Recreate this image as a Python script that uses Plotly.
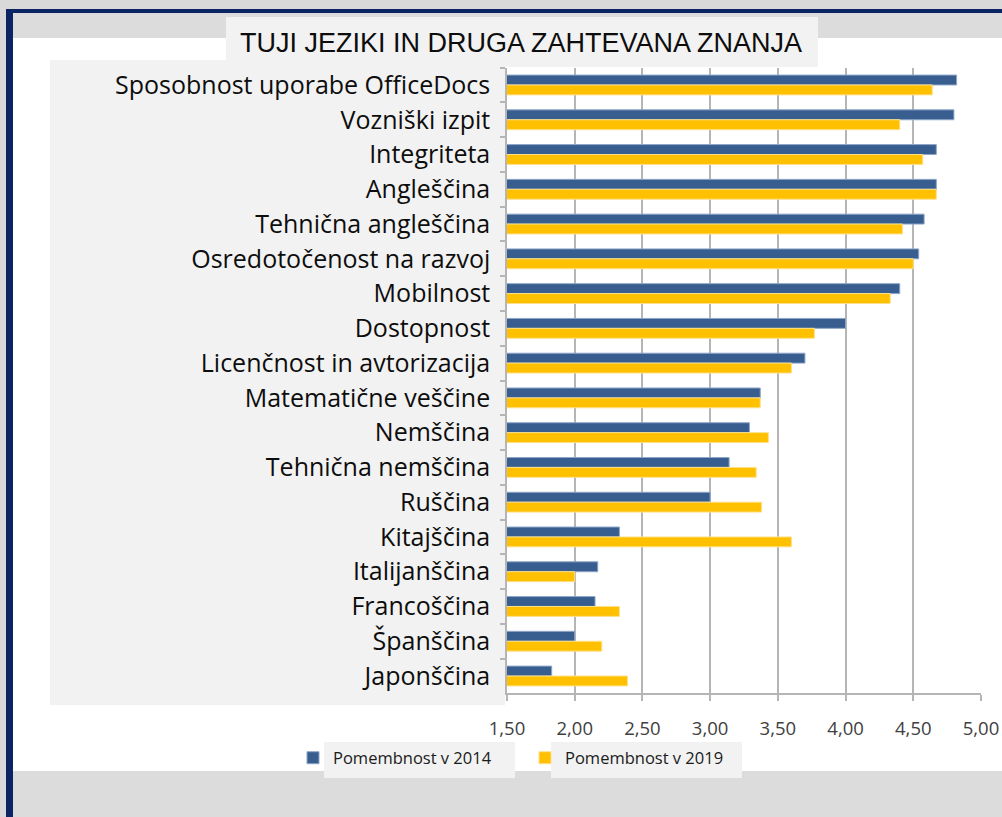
import plotly.graph_objects as go

categories = [
    "Sposobnost uporabe OfficeDocs", "Vozniški izpit", "Integriteta", "Angleščina",
    "Tehnična angleščina", "Osredotočenost na razvoj", "Mobilnost", "Dostopnost",
    "Licenčnost in avtorizacija", "Matematične veščine", "Nemščina", "Tehnična nemščina",
    "Ruščina", "Kitajščina", "Italijanščina", "Francoščina", "Španščina", "Japonščina",
]
values_2014 = [4.82, 4.80, 4.67, 4.67, 4.58, 4.54, 4.40, 4.00, 3.70, 3.37, 3.29, 3.14,
               3.00, 2.33, 2.17, 2.15, 2.00, 1.83]
values_2019 = [4.64, 4.40, 4.57, 4.67, 4.42, 4.50, 4.33, 3.77, 3.60, 3.37, 3.43, 3.34,
               3.38, 3.60, 2.00, 2.33, 2.20, 2.39]
series_names = ["Pomembnost v 2014", "Pomembnost v 2019"]
x_ticks = [1.5, 2.0, 2.5, 3.0, 3.5, 4.0, 4.5, 5.0]
title_text = "TUJI JEZIKI IN DRUGA ZAHTEVANA ZNANJA"

W, H = 1002, 817


def px(x):
    return x / W


def py(y):
    return 1 - y / H


BLUE = "#375E8F"
YELLOW = "#FFC000"
GRID = "#b5b5b5"

fig = go.Figure()
fig.add_trace(go.Bar(
    y=categories, x=values_2014, name=series_names[0], orientation="h",
    marker=dict(color=BLUE, line=dict(color="#8ea6c8", width=1)),
))
fig.add_trace(go.Bar(
    y=categories, x=values_2019, name=series_names[1], orientation="h",
    marker=dict(color=YELLOW, line=dict(color="#ffe08a", width=1)),
))


def rect(x0, y0, x1, y1, color):
    return dict(type="rect", xref="paper", yref="paper",
                x0=px(x0), x1=px(x1), y0=py(y1), y1=py(y0),
                fillcolor=color, line=dict(width=0), layer="below")


shapes = [
    rect(0, 0, W, 9, "#d9d9d9"),
    rect(0, 0, 6, H, "#d9d9d9"),
    rect(6, 9, W, 13, "#0b2463"),
    rect(6, 9, 13, H, "#0b2463"),
    rect(13, 13, W, 38, "#dcdcdc"),
    rect(13, 771, W, H, "#dcdcdc"),
    rect(50, 60, 505, 705, "#f2f2f2"),
    rect(226, 17, 818, 67, "#f2f2f2"),
    rect(324, 742, 515, 778, "#f2f2f2"),
    rect(551, 742, 742, 778, "#f2f2f2"),
]

fig.update_layout(
    width=W, height=H,
    autosize=False,
    margin=dict(l=0, r=0, t=0, b=0, pad=0, autoexpand=False),
    paper_bgcolor="white",
    plot_bgcolor="rgba(0,0,0,0)",
    separators=", ",
    barmode="group",
    bargap=0.43,
    bargroupgap=0,
    shapes=shapes,
    font=dict(family="Open Sans", color="#1a1a1a"),
    showlegend=True,
    legend=dict(
        orientation="h", x=px(293), y=py(758), xanchor="left", yanchor="middle",
        bgcolor="rgba(0,0,0,0)", font=dict(size=16.5, color="#1a1a1a", family="Open Sans"),
        entrywidth=187, entrywidthmode="pixels", traceorder="normal",
    ),
    annotations=[dict(
        text=title_text, xref="paper", yref="paper", x=px(521), y=py(43),
        xanchor="center", yanchor="middle", showarrow=False,
        font=dict(family="Liberation Sans, Arial, sans-serif", size=27, color="#0d0d0d"),
    )],
    xaxis=dict(
        domain=[px(507), px(981)], range=[1.5, 5.0],
        tickvals=x_ticks, tickformat=".2f",
        showgrid=True, gridcolor=GRID, gridwidth=1.5,
        showline=True, linecolor=GRID, linewidth=1.5,
        ticks="outside", ticklen=6, tickcolor=GRID, tickwidth=1.5,
        ticklabelstandoff=12,
        tickfont=dict(size=18.5, color="#404040", family="Open Sans"),
        zeroline=False, fixedrange=True, automargin=False,
    ),
    yaxis=dict(
        domain=[py(693.4), py(67.6)],
        autorange="reversed", type="category",
        showgrid=False, showline=True, linecolor=GRID, linewidth=1.5,
        ticks="outside", tickson="boundaries", ticklen=5, tickcolor=GRID, tickwidth=1.5,
        ticklabelstandoff=10,
        tickfont=dict(size=25, color="#0d0d0d", family="Open Sans"),
        fixedrange=True, automargin=False,
    ),
)

fig.write_html("out.html", config={"displayModeBar": False},
               post_script="document.body.style.margin='0px';")
